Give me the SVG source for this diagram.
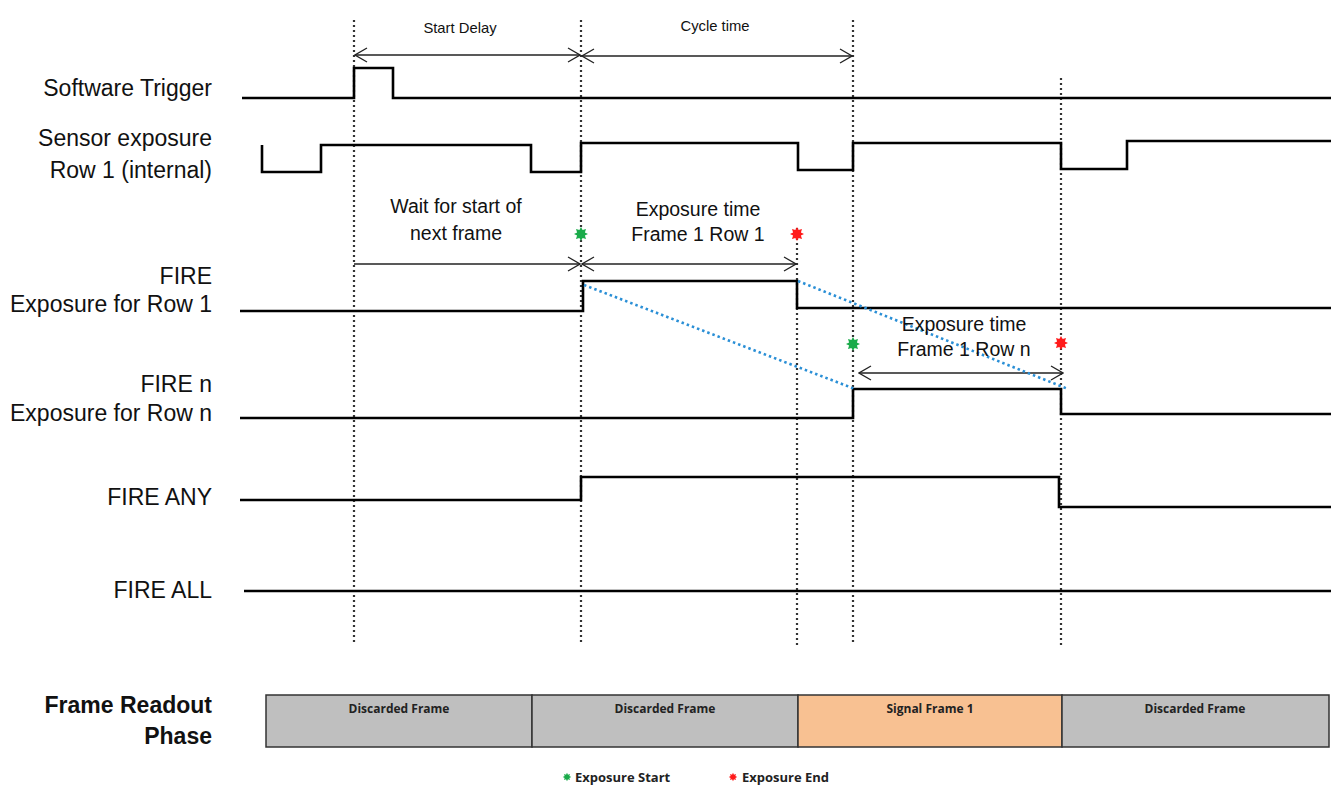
<svg xmlns="http://www.w3.org/2000/svg" width="1331" height="786" viewBox="0 0 1331 786">
<style>
.lbl{font-family:"Liberation Sans",Arial,sans-serif;font-size:23px;fill:#111;text-anchor:end}
.bold{font-weight:bold}
.sig{fill:none;stroke:#000;stroke-width:2.6}
.grid{fill:none;stroke:#333;stroke-width:2.2;stroke-dasharray:2,3}
.dim{fill:none;stroke:#222;stroke-width:1.3}
.blue{fill:none;stroke:#2a8fd6;stroke-width:2.6;stroke-dasharray:2.5,3}
.ann{font-family:"Liberation Sans",Arial,sans-serif;font-size:19.5px;fill:#111;text-anchor:middle}
.sm{font-family:"Liberation Sans",Arial,sans-serif;font-size:14.8px;fill:#111;text-anchor:middle}
.box{stroke:#333;stroke-width:1.5}
.bx{font-family:"Open Sans","Liberation Sans",sans-serif;font-size:12px;font-weight:bold;fill:#222;text-anchor:middle}
.leg{font-family:"Open Sans","Liberation Sans",sans-serif;font-size:13px;font-weight:bold;fill:#222}
</style>
<defs>
<marker id="ah" viewBox="0 0 14 16" refX="13" refY="8" markerWidth="14" markerHeight="16" markerUnits="userSpaceOnUse" orient="auto-start-reverse">
<path d="M1,1 L13,8 L1,15" fill="none" stroke="#222" stroke-width="1.3"/>
</marker>
<polygon id="star" points="0,-7 1.6,-3.9 5,-5 3.9,-1.6 7,0 3.9,1.6 5,5 1.6,3.9 0,7 -1.6,3.9 -5,5 -3.9,1.6 -7,0 -3.9,-1.6 -5,-5 -1.6,-3.9"/>
</defs>
<rect width="1331" height="786" fill="#fff"/>

<g id="labels">
<text class="lbl" x="212" y="96">Software Trigger</text>
<text class="lbl" x="212" y="146">Sensor exposure</text>
<text class="lbl" x="212" y="178">Row 1 (internal)</text>
<text class="lbl" x="212" y="284">FIRE</text>
<text class="lbl" x="212" y="312">Exposure for Row 1</text>
<text class="lbl" x="212" y="392">FIRE n</text>
<text class="lbl" x="212" y="421">Exposure for Row n</text>
<text class="lbl" x="212" y="505">FIRE ANY</text>
<text class="lbl" x="212" y="598">FIRE ALL</text>
<text class="lbl bold" x="212" y="713">Frame Readout</text>
<text class="lbl bold" x="212" y="744">Phase</text>
</g>

<g id="gridlines">
<line class="grid" x1="354" y1="20" x2="354" y2="645"/>
<line class="grid" x1="581" y1="20" x2="581" y2="645"/>
<line class="grid" x1="853" y1="20" x2="853" y2="645"/>
<line class="grid" x1="797" y1="228" x2="797" y2="645"/>
<line class="grid" x1="1061" y1="78" x2="1061" y2="645"/>
</g>

<g id="signals">
<path id="sw-trigger" class="sig" d="M242,98 H354 V68 H393 V98 H1331"/>
<path id="sensor-exposure" class="sig" d="M262,145 V172 H321 V145 H531 V172 H581 V143 H798 V170 H853 V143 H1061 V169 H1127 V141 H1331"/>
<path id="fire-row1" class="sig" d="M240,311 H583 V281 H797 V308 H1331"/>
<path id="fire-rown" class="sig" d="M240,418 H853 V389 H1061 V414 H1331"/>
<path id="fire-any" class="sig" d="M240,500 H581 V477 H1059 V507 H1331"/>
<path id="fire-all" class="sig" d="M244,591 H1331"/>
</g>

<g id="connectors">
<line class="dim" x1="355" y1="55" x2="580" y2="55" marker-start="url(#ah)" marker-end="url(#ah)"/>
<line class="dim" x1="582" y1="56" x2="852" y2="56" marker-start="url(#ah)" marker-end="url(#ah)"/>
<line class="dim" x1="354" y1="264" x2="580" y2="264" marker-end="url(#ah)"/>
<line class="dim" x1="582" y1="264" x2="796" y2="264" marker-start="url(#ah)" marker-end="url(#ah)"/>
<line class="dim" x1="859" y1="373" x2="1063" y2="373" marker-start="url(#ah)" marker-end="url(#ah)"/>
<line class="blue" x1="584" y1="285" x2="855" y2="389"/>
<line class="blue" x1="798" y1="281" x2="1068" y2="389"/>
</g>

<g id="annotations">
<text class="sm" x="460" y="33">Start Delay</text>
<text class="sm" x="715" y="31">Cycle time</text>
<text class="ann" x="456" y="213">Wait for start of</text>
<text class="ann" x="456" y="240">next frame</text>
<text class="ann" x="698" y="216">Exposure time</text>
<text class="ann" x="698" y="241">Frame 1 Row 1</text>
<text class="ann" x="964" y="331">Exposure time</text>
<text class="ann" x="964" y="356">Frame 1 Row n</text>
</g>

<g id="markers">
<use href="#star" x="581" y="234" fill="#1aab4a"/>
<use href="#star" x="797" y="234" fill="#ff1a1a"/>
<use href="#star" x="853" y="344" fill="#1aab4a"/>
<use href="#star" x="1061" y="343" fill="#ff1a1a"/>
</g>

<g id="readout">
<g id="frame1"><rect class="box" x="266" y="695" width="266" height="52" fill="#bfbfbf"/><text class="bx" x="399" y="713">Discarded Frame</text></g>
<g id="frame2"><rect class="box" x="532" y="695" width="266" height="52" fill="#bfbfbf"/><text class="bx" x="665" y="713">Discarded Frame</text></g>
<g id="frame3"><rect class="box" x="798" y="695" width="264" height="52" fill="#f8c192"/><text class="bx" x="930" y="713">Signal Frame 1</text></g>
<g id="frame4"><rect class="box" x="1062" y="695" width="267" height="52" fill="#bfbfbf"/><text class="bx" x="1195" y="713">Discarded Frame</text></g>
</g>

<g id="legend">
<use href="#star" x="567" y="777" fill="#1aab4a" transform="translate(567,777) scale(0.6) translate(-567,-777)"/>
<text class="leg" x="575" y="782">Exposure Start</text>
<use href="#star" x="733" y="777" fill="#ff1a1a" transform="translate(733,777) scale(0.6) translate(-733,-777)"/>
<text class="leg" x="742" y="782">Exposure End</text>
</g>
</svg>
